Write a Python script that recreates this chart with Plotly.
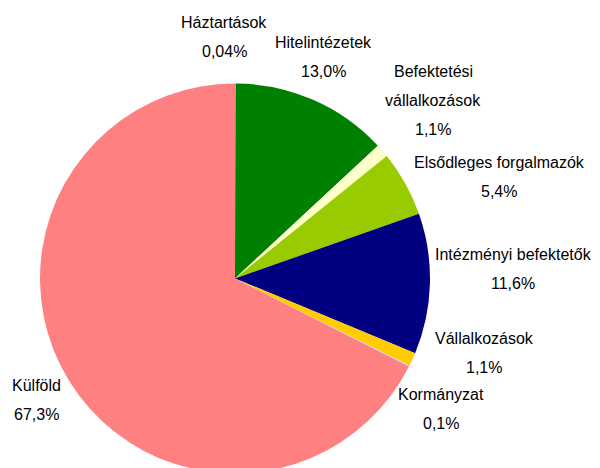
import plotly.graph_objects as go

labels = ["Háztartások", "Hitelintézetek", "Befektetési vállalkozások", "Elsődleges forgalmazók",
          "Intézményi befektetők", "Vállalkozások", "Kormányzat", "Külföld"]
name_lines = [["Háztartások"], ["Hitelintézetek"], ["Befektetési", "vállalkozások"], ["Elsődleges forgalmazók"],
              ["Intézményi befektetők"], ["Vállalkozások"], ["Kormányzat"], ["Külföld"]]
values = [0.04, 13.0, 1.1, 5.4, 11.6, 1.1, 0.1, 67.3]
value_text = ["0,04%", "13,0%", "1,1%", "5,4%", "11,6%", "1,1%", "0,1%", "67,3%"]
colors = ["#FFFFFF", "#008000", "#FFFFCC", "#99CC00", "#000080", "#FFCC00", "#CCCCFF", "#FF8080"]

# page offset (body margin) compensation
OFF = 8
# label anchor positions in screen pixels (x center, y of first line)
label_pos = [(224, 22), (324, 43), (433, 72), (499, 163), (513, 254), (484, 338), (441, 394), (36, 385)]
line_gap = 29

W, H = 600, 468
fig = go.Figure(go.Pie(
    labels=labels, values=values, sort=False, direction="clockwise", rotation=0,
    marker=dict(colors=colors, line=dict(width=0)),
    textinfo="none", hoverinfo="label+percent", showlegend=False,
    domain=dict(x=[(40 - OFF) / W, (430 - OFF) / W], y=[0, 1 - (81 - OFF) / H]),
))

annotations = []
for lines, vt, (px, py) in zip(name_lines, value_text, label_pos):
    all_lines = lines + [vt]
    for i, t in enumerate(all_lines):
        annotations.append(dict(
            text=t, x=(px - OFF) / W, y=1 - (py - OFF + i * line_gap) / H, xref="paper", yref="paper",
            xanchor="center", yanchor="middle", showarrow=False,
            font=dict(family="Liberation Sans, Arial, sans-serif", size=16, color="#000000"),
        ))

fig.update_layout(
    width=W, height=H, margin=dict(l=0, r=0, t=0, b=0),
    paper_bgcolor="white", plot_bgcolor="white",
    annotations=annotations,
)
fig.write_html("out.html")
